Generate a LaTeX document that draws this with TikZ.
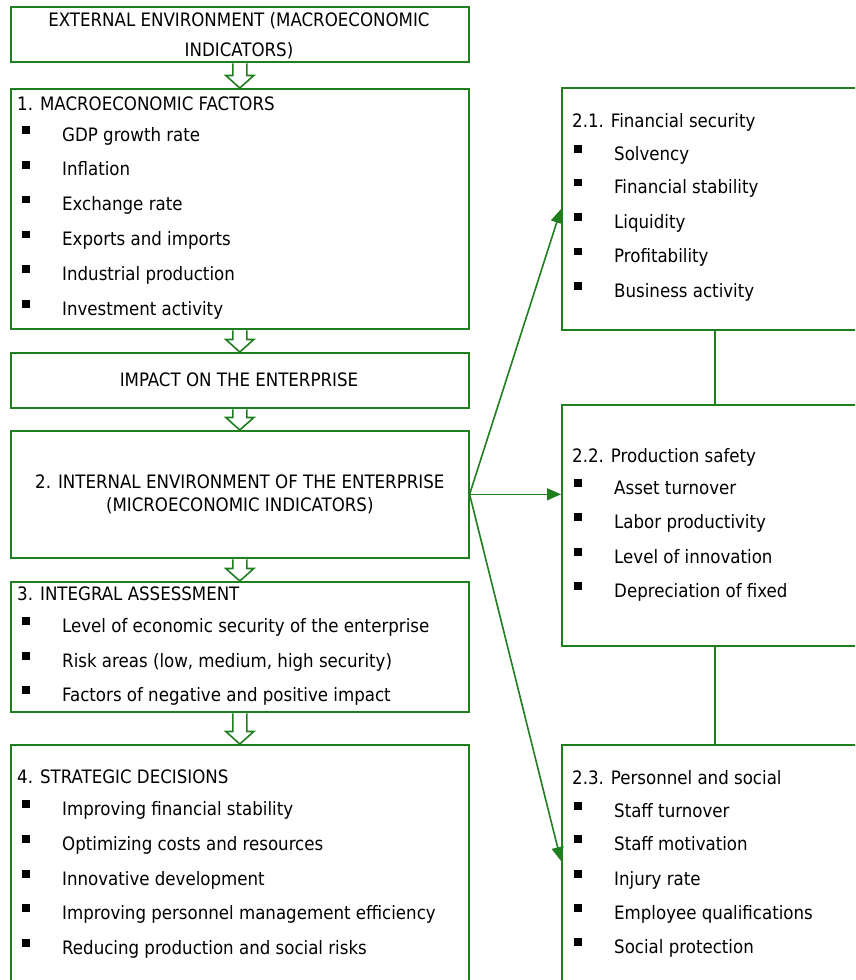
\documentclass[tikz,border=0pt]{standalone}
\usepackage{fontspec}
\setmainfont{DejaVu Sans Condensed}
\usepackage{tikz}
\usetikzlibrary{positioning, arrows.meta, calc}
\definecolor{boxgreen}{HTML}{1F7F1F}
\tikzset{
  % framed block, placed by its top left corner
  block/.style={draw=boxgreen, line width=1.6pt, fill=white,
                inner sep=0pt, anchor=north west},
  % one line of text, placed at its baseline
  entry/.style={anchor=base west, inner sep=0pt,
                font=\fontsize{18.5}{23.5}\selectfont},
  % small black square in front of a list line
  bullet/.style={fill=black, inner sep=0pt, minimum size=7.5pt},
  % hollow block arrow between two blocks
  flow/.style={draw=boxgreen, line width=1.6pt, fill=white},
  % thin green connectors
  link/.style={draw=boxgreen, line width=1.6pt},
  pointer/.style={link, -{Triangle[length=14pt, width=12pt]}},
}
\newcommand{\flowarrow}[2]{%
  \draw[flow] let \p1=(#1.south), \p2=(#2.north) in
    (\x1-7pt,\y1-0.8pt) -- (\x1-7pt,\y2+12.5pt) -- (\x1-14pt,\y2+12.5pt)
    -- (\x1,\y2) -- (\x1+14pt,\y2+12.5pt) -- (\x1+7pt,\y2+12.5pt)
    -- (\x1+7pt,\y1-0.8pt);}

\begin{document}
\begin{tikzpicture}[x=1pt, y=-1pt]
  \useasboundingbox (0,0) rectangle (855,980);
  \clip (0,0) rectangle (855,980);

  % left column
  \node[block, minimum width=458pt, minimum height=55pt]  (ext)    at (10,6)   {};
  \node[block, minimum width=458pt, minimum height=240pt] (macro)  at (10,88)  {};
  \node[block, minimum width=458pt, minimum height=55pt]  (impact) at (10,352) {};
  \node[block, minimum width=458pt, minimum height=127pt] (intern) at (10,430) {};
  \node[block, minimum width=458pt, minimum height=130pt] (assess) at (10,581) {};
  \node[block, minimum width=458pt, minimum height=250pt] (strat)  at (10,744) {};

  % right column
  \node[block, minimum width=306pt, minimum height=242pt] (fin)  at (561,87)  {};
  \node[block, minimum width=306pt, minimum height=241pt] (prod) at (561,404) {};
  \node[block, minimum width=306pt, minimum height=250pt] (pers) at (561,744) {};

  \flowarrow{ext}{macro}
  \flowarrow{macro}{impact}
  \flowarrow{impact}{intern}
  \flowarrow{intern}{assess}
  \flowarrow{assess}{strat}

  \draw[link] (fin.south) -- (prod.north);
  \draw[link] (prod.south) -- (pers.north);

  \coordinate (fin-in)  at (561,209);
  \coordinate (pers-in) at (561,861);
  \draw[pointer] (intern.east) -- (fin-in);
  \draw[pointer] (intern.east) -- (intern.east -| prod.west);
  \draw[pointer] (intern.east) -- (pers-in);

  % block texts
  \node[entry, anchor=base] (ext-1) at (239,26.5) {EXTERNAL ENVIRONMENT (MACROECONOMIC};
  \node[entry, anchor=base] (ext-2) at (239,56.5) {INDICATORS)};
  \node[entry, anchor=base] (impact-t) at (239,386) {IMPACT ON THE ENTERPRISE};
  \node[entry, anchor=center, align=center] (intern-t) at (intern.center)
    {2. INTERNAL ENVIRONMENT OF THE ENTERPRISE\\(MICROECONOMIC INDICATORS)};

  \node[entry] (macro-t) at (17,110.5) {1. MACROECONOMIC FACTORS};
  \foreach \yy/\txt [count=\k] in {141/GDP growth rate, 175.8/Inflation,
      210.6/Exchange rate, 245.4/Exports and imports,
      280.2/Industrial production, 315/Investment activity}{
    \node[bullet] (macro-b\k) at (26,\yy-11) {};
    \node[entry] (macro-\k) at (62,\yy) {\txt};
  }

  \node[entry] (assess-t) at (17,600) {3. INTEGRAL ASSESSMENT};
  \foreach \yy/\txt [count=\k] in {632/Level of economic security of the enterprise,
      667/{Risk areas (low, medium, high security)},
      701/Factors of negative and positive impact}{
    \node[bullet] (assess-b\k) at (26,\yy-11) {};
    \node[entry] (assess-\k) at (62,\yy) {\txt};
  }

  \node[entry] (strat-t) at (17,783) {4. STRATEGIC DECISIONS};
  \foreach \yy/\txt [count=\k] in {815/Improving financial stability,
      850/Optimizing costs and resources, 885/Innovative development,
      919/Improving personnel management efficiency,
      954/Reducing production and social risks}{
    \node[bullet] (strat-b\k) at (26,\yy-11) {};
    \node[entry] (strat-\k) at (62,\yy) {\txt};
  }

  \node[entry] (fin-t) at (572,127) {2.1. Financial security};
  \foreach \yy/\txt [count=\k] in {160/Solvency, 193.5/Financial stability,
      228/Liquidity, 262.5/Profitability, 297/Business activity}{
    \node[bullet] (fin-b\k) at (578,\yy-11) {};
    \node[entry] (fin-\k) at (614,\yy) {\txt};
  }

  \node[entry] (prod-t) at (572,462) {2.2. Production safety};
  \foreach \yy/\txt [count=\k] in {494/Asset turnover, 528/Labor productivity,
      563/Level of innovation, 597/Depreciation of fixed}{
    \node[bullet] (prod-b\k) at (578,\yy-11) {};
    \node[entry] (prod-\k) at (614,\yy) {\txt};
  }

  \node[entry] (pers-t) at (572,784) {2.3. Personnel and social};
  \foreach \yy/\txt [count=\k] in {817/Staff turnover, 850/Staff motivation,
      885/Injury rate, 919/Employee qualifications, 953/Social protection}{
    \node[bullet] (pers-b\k) at (578,\yy-11) {};
    \node[entry] (pers-\k) at (614,\yy) {\txt};
  }
\end{tikzpicture}
\end{document}
